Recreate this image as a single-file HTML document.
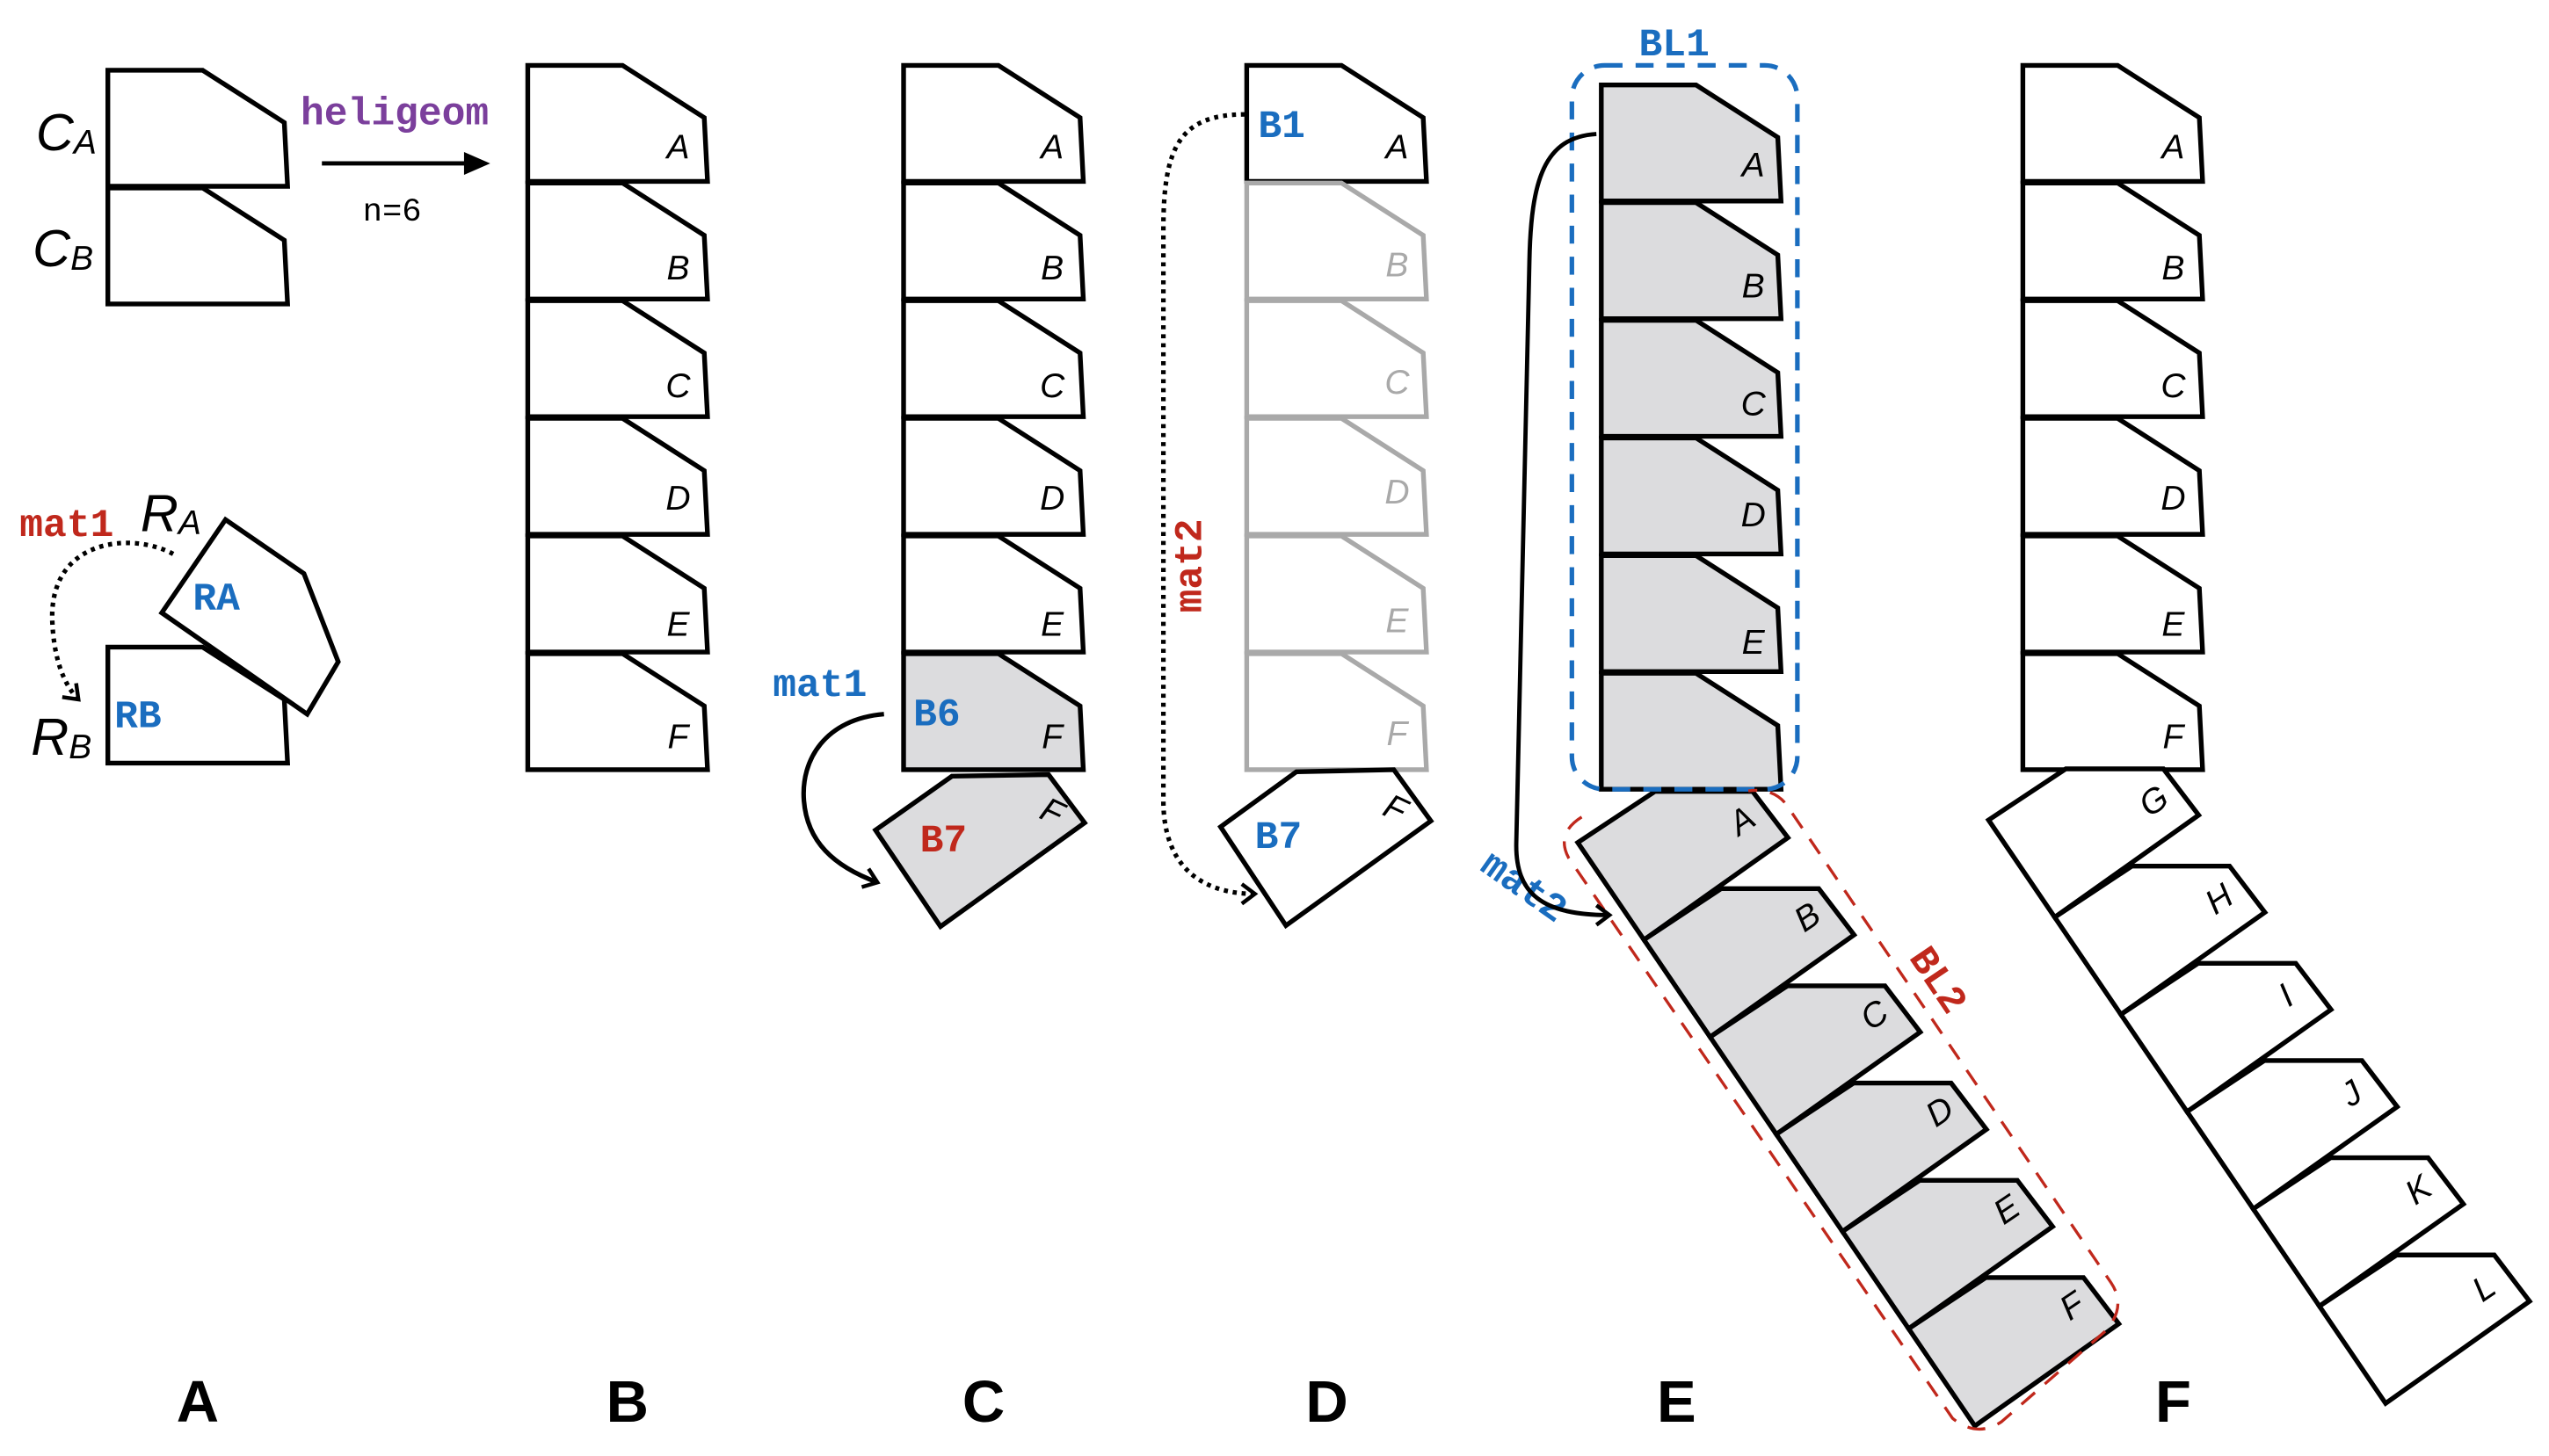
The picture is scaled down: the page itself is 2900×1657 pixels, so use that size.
<!DOCTYPE html>
<html><head><meta charset="utf-8"><style>
html,body{margin:0;padding:0;background:#fff}
svg{display:block}
.b{fill:#fff;stroke:#000;stroke-width:2.9;stroke-linejoin:miter}
.g{fill:#dcdcde;stroke:#000;stroke-width:2.9}
.gl{fill:#fff;stroke:#a9a9a9;stroke-width:2.9}
.lt{font-family:"Liberation Sans",sans-serif;font-style:italic;font-size:21px;text-anchor:middle}
.mono{font-family:"Liberation Mono",monospace;font-weight:bold;font-size:24px}
.pl{font-family:"Liberation Sans",sans-serif;font-weight:bold;font-size:36px;text-anchor:middle}
</style></head><body>
<svg width="2900" height="1657" viewBox="0 0 1560 891" preserveAspectRatio="none" xmlns="http://www.w3.org/2000/svg">
<defs>
<polygon id="blk" points="0,0 58,0 108,32 110,71 0,71"/>
<polygon id="ch" points="0,0 47.3,-31.3 107,-31.3 128.6,-3 40.5,59.5"/>
<marker id="ah" markerWidth="14" markerHeight="14" refX="10" refY="7" orient="auto" markerUnits="userSpaceOnUse">
<path d="M2,1 L10,7 L2,13" fill="none" stroke="#000" stroke-width="2.4"/></marker>
</defs>

<!-- Panel A -->
<use href="#blk" x="66" y="43" class="b"/>
<use href="#blk" x="66" y="115" class="b"/>
<text x="22" y="92" font-family="Liberation Sans" font-style="italic" font-size="32">C<tspan font-size="21" dy="2">A</tspan></text>
<text x="20" y="163" font-family="Liberation Sans" font-style="italic" font-size="32">C<tspan font-size="21" dy="2">B</tspan></text>
<text x="184" y="76" class="mono" fill="#7b3f9c">heligeom</text>
<line x1="197" y1="100" x2="286" y2="100" stroke="#000" stroke-width="2.6"/>
<polygon points="300,100 284,93 284,107" fill="#000"/>
<text x="222" y="135" font-family="Liberation Mono" font-size="20">n=6</text>

<use href="#blk" x="66" y="396" class="b"/>
<polygon points="138,318 186,351 207,405 188,437 99,375" class="b"/>
<text x="12" y="328" class="mono" fill="#c0281c">mat1</text>
<text x="86" y="325" font-family="Liberation Sans" font-style="italic" font-size="32">R<tspan font-size="21" dy="2">A</tspan></text>
<text x="19" y="462" font-family="Liberation Sans" font-style="italic" font-size="32">R<tspan font-size="21" dy="2">B</tspan></text>
<text x="118" y="373" class="mono" fill="#1a6dbf" font-size="22">RA</text>
<text x="70" y="445" class="mono" fill="#1a6dbf" font-size="22">RB</text>
<path d="M106,339 C80,325 30,330 32,380 C33,405 40,420 48,428" fill="none" stroke="#000" stroke-width="2.8" stroke-dasharray="2.5,3" marker-end="url(#ah)"/>

<!-- Panel B -->
<g>
<use href="#blk" x="323" y="40" class="b"/><use href="#blk" x="323" y="112" class="b"/><use href="#blk" x="323" y="184" class="b"/>
<use href="#blk" x="323" y="256" class="b"/><use href="#blk" x="323" y="328" class="b"/><use href="#blk" x="323" y="400" class="b"/>
<text class="lt" x="415" y="97">A</text><text class="lt" x="415" y="171">B</text><text class="lt" x="415" y="243">C</text>
<text class="lt" x="415" y="312">D</text><text class="lt" x="415" y="389">E</text><text class="lt" x="415" y="458">F</text>
</g>

<!-- Panel C -->
<g>
<use href="#blk" x="553" y="40" class="b"/><use href="#blk" x="553" y="112" class="b"/><use href="#blk" x="553" y="184" class="b"/>
<use href="#blk" x="553" y="256" class="b"/><use href="#blk" x="553" y="328" class="b"/><use href="#blk" x="553" y="400" class="g"/>
<text class="lt" x="644" y="97">A</text><text class="lt" x="644" y="171">B</text><text class="lt" x="644" y="243">C</text>
<text class="lt" x="644" y="312">D</text><text class="lt" x="644" y="389">E</text><text class="lt" x="644" y="458">F</text>
<polygon points="582.6,475 641.7,474 663.8,503.5 575.6,567 535.8,508" class="g"/>
<text class="lt" x="0" y="0" transform="translate(641,503) rotate(25)">F</text>
<text x="559" y="444" class="mono" fill="#1a6dbf" font-size="22">B6</text>
<text x="563" y="521" class="mono" fill="#c0281c" font-size="22">B7</text>
<text x="473" y="426" class="mono" fill="#1a6dbf">mat1</text>
<path d="M541,437 C505,440 490,465 492,490 C494,515 510,530 537,540" fill="none" stroke="#000" stroke-width="2.8" marker-end="url(#ah)"/>
</g>

<!-- Panel D -->
<g>
<use href="#blk" x="763" y="40" class="b"/>
<use href="#blk" x="763" y="112" class="gl"/><use href="#blk" x="763" y="184" class="gl"/>
<use href="#blk" x="763" y="256" class="gl"/><use href="#blk" x="763" y="328" class="gl"/><use href="#blk" x="763" y="400" class="gl"/>
<text class="lt" x="855" y="97">A</text>
<g fill="#a9a9a9"><text class="lt" x="855" y="169">B</text><text class="lt" x="855" y="241">C</text>
<text class="lt" x="855" y="308">D</text><text class="lt" x="855" y="387">E</text><text class="lt" x="855" y="456">F</text></g>
<polygon points="793.4,472.3 853,471 875.7,502.4 787,566.4 747,506" class="b"/>
<text class="lt" x="0" y="0" transform="translate(851,501) rotate(25)">F</text>
<text x="770" y="84" class="mono" fill="#1a6dbf" font-size="22">B1</text>
<text x="768" y="519" class="mono" fill="#1a6dbf" font-size="22">B7</text>
<text class="mono" fill="#c0281c" transform="translate(735,375) rotate(-90)">mat2</text>
<path d="M762,70 C722,70 712,90 712,140 L712,490 C712,530 735,547 768,547" fill="none" stroke="#000" stroke-width="2.8" stroke-dasharray="2.5,3" marker-end="url(#ah)"/>
</g>

<!-- Panel E -->
<g>
<use href="#ch" x="965.6" y="515.6" class="g"/>
<use href="#ch" x="1006.1" y="575.1" class="g"/>
<use href="#ch" x="1046.6" y="634.6" class="g"/>
<use href="#ch" x="1087.1" y="694.1" class="g"/>
<use href="#ch" x="1127.6" y="753.6" class="g"/>
<use href="#ch" x="1168.1" y="813.1" class="g"/>
<text class="lt" transform="translate(1070,508) rotate(-34)">A</text>
<text class="lt" transform="translate(1110,567) rotate(-34)">B</text>
<text class="lt" transform="translate(1151,627) rotate(-34)">C</text>
<text class="lt" transform="translate(1191,686) rotate(-34)">D</text>
<text class="lt" transform="translate(1232,746) rotate(-34)">E</text>
<text class="lt" transform="translate(1272,805) rotate(-34)">F</text>
<use href="#blk" x="980" y="52" class="g"/><use href="#blk" x="980" y="124" class="g"/><use href="#blk" x="980" y="196" class="g"/>
<use href="#blk" x="980" y="268" class="g"/><use href="#blk" x="980" y="340" class="g"/><use href="#blk" x="980" y="412" class="g"/>
<text class="lt" x="1073" y="108">A</text><text class="lt" x="1073" y="182">B</text><text class="lt" x="1073" y="254">C</text>
<text class="lt" x="1073" y="322">D</text><text class="lt" x="1073" y="400">E</text>
<rect x="962" y="40" width="138" height="443" rx="20" fill="none" stroke="#1a6dbf" stroke-width="2.8" stroke-dasharray="11,8"/>
<rect x="1001" y="16" width="50" height="22" fill="#fff"/>
<text x="1003" y="34" class="mono" fill="#1a6dbf" font-size="22">BL1</text>
<path d="M968,500 Q952,510 960,525 L1195,868 Q1210,880 1225,870 L1288,815 Q1302,800 1292,785 L1093,492 Q1085,482 1070,484" fill="none" stroke="#c0281c" stroke-width="1.8" stroke-dasharray="11,8"/>
<text class="mono" fill="#c0281c" font-size="22" transform="translate(1168,586) rotate(56)">BL2</text>
<text class="mono" fill="#1a6dbf" font-size="22" transform="translate(905,532) rotate(35)">mat2</text>
<path d="M977,82 C945,84 937,110 936,160 L928,515 C927,548 945,560 985,560" fill="none" stroke="#000" stroke-width="2.6" marker-end="url(#ah)"/>
</g>

<!-- Panel F -->
<g>
<use href="#blk" x="1238" y="40" class="b"/><use href="#blk" x="1238" y="112" class="b"/><use href="#blk" x="1238" y="184" class="b"/>
<use href="#blk" x="1238" y="256" class="b"/><use href="#blk" x="1238" y="328" class="b"/><use href="#blk" x="1238" y="400" class="b"/>
<text class="lt" x="1330" y="97">A</text><text class="lt" x="1330" y="171">B</text><text class="lt" x="1330" y="243">C</text>
<text class="lt" x="1330" y="312">D</text><text class="lt" x="1330" y="389">E</text><text class="lt" x="1330" y="458">F</text>
<use href="#ch" x="1217" y="501.8" class="b"/>
<use href="#ch" x="1257.5" y="561.3" class="b"/>
<use href="#ch" x="1298" y="620.8" class="b"/>
<use href="#ch" x="1338.5" y="680.3" class="b"/>
<use href="#ch" x="1379" y="739.8" class="b"/>
<use href="#ch" x="1419.5" y="799.3" class="b"/>
<text class="lt" transform="translate(1322,496) rotate(-34)">G</text>
<text class="lt" transform="translate(1362,556) rotate(-34)">H</text>
<text class="lt" transform="translate(1403,615) rotate(-34)">I</text>
<text class="lt" transform="translate(1443,675) rotate(-34)">J</text>
<text class="lt" transform="translate(1484,734) rotate(-34)">K</text>
<text class="lt" transform="translate(1524,794) rotate(-34)">L</text>
</g>

<!-- panel labels -->
<text class="pl" x="121" y="870">A</text>
<text class="pl" x="384" y="870">B</text>
<text class="pl" x="602" y="870">C</text>
<text class="pl" x="812" y="870">D</text>
<text class="pl" x="1026" y="870">E</text>
<text class="pl" x="1330" y="870">F</text>
</svg>
</body></html>
